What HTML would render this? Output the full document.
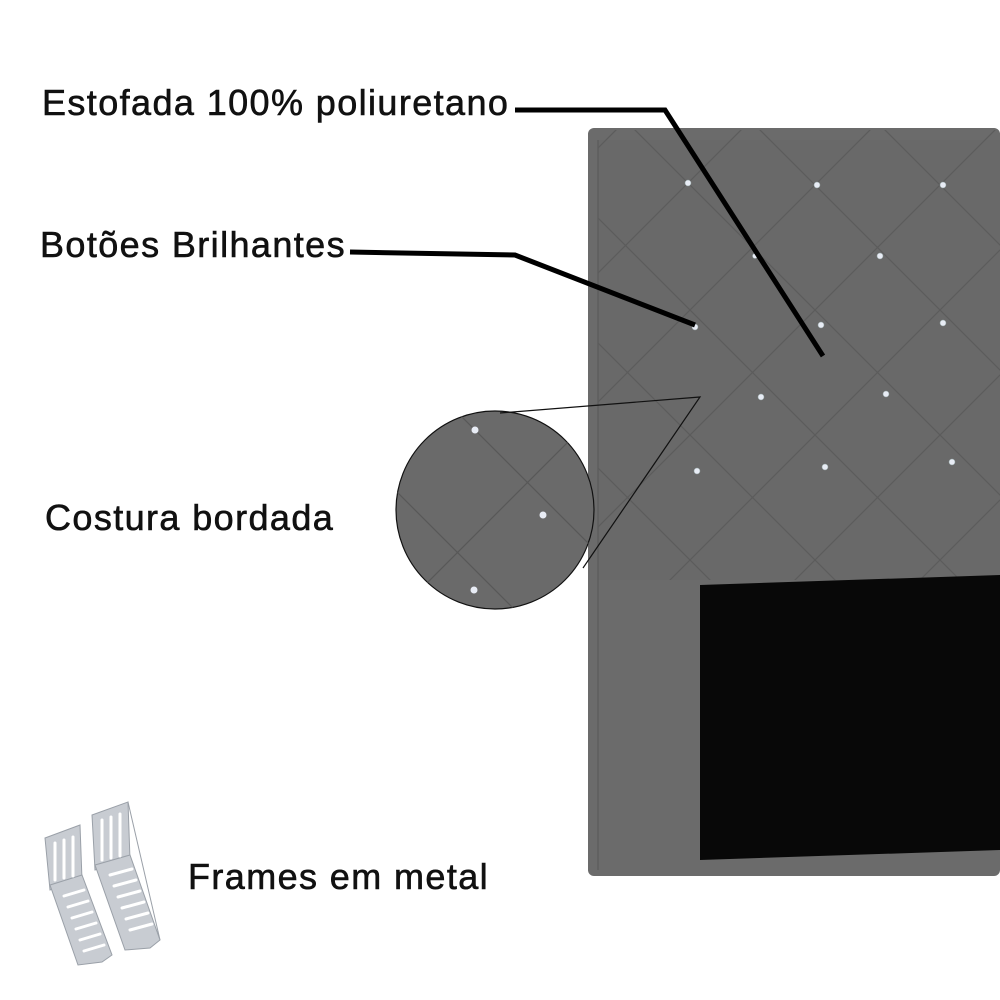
<!DOCTYPE html>
<html><head><style>
body{margin:0;width:1000px;height:1000px;background:#fff;overflow:hidden;position:relative;font-family:"Liberation Sans",sans-serif}
.t{position:absolute;font-size:36px;color:#111;white-space:nowrap;letter-spacing:1.4px;-webkit-text-stroke:0.6px #111}
</style></head><body>
<svg width="1000" height="1000" style="position:absolute;left:0;top:0">
<defs>
<clipPath id="hb"><rect x="598" y="130" width="402" height="450"/></clipPath>
<clipPath id="cc"><circle cx="495" cy="510" r="99"/></clipPath>
</defs>
<rect x="588" y="128" width="412" height="748" rx="6" fill="#6b6b6b"/>
<rect x="598" y="140" width="402" height="440" fill="#696969"/>
<line x1="598" y1="140" x2="598" y2="870" stroke="#5e5e5e" stroke-width="1.5"/>
<g clip-path="url(#hb)" stroke="#5c5c5c" stroke-width="1.2">
<line x1="255" y1="0" x2="1255" y2="1000"/><line x1="380" y1="0" x2="1380" y2="1000"/><line x1="505" y1="0" x2="1505" y2="1000"/><line x1="630" y1="0" x2="1630" y2="1000"/><line x1="755" y1="0" x2="1755" y2="1000"/><line x1="130" y1="0" x2="1130" y2="1000"/>
<line x1="621" y1="0" x2="-379" y2="1000"/><line x1="746" y1="0" x2="-254" y2="1000"/><line x1="871" y1="0" x2="-129" y2="1000"/><line x1="1000" y1="0" x2="0" y2="1000"/><line x1="1125" y1="0" x2="125" y2="1000"/><line x1="1250" y1="0" x2="250" y2="1000"/><line x1="1375" y1="0" x2="375" y2="1000"/><line x1="1500" y1="0" x2="500" y2="1000"/>
</g>
<g fill="#e8ecf5" stroke="#9aa" stroke-width="0.5">
<circle cx="688" cy="183" r="3"/><circle cx="817" cy="185" r="3"/><circle cx="943" cy="185" r="3"/><circle cx="755" cy="256" r="2.5"/><circle cx="880" cy="256" r="3"/><circle cx="695" cy="327" r="3"/><circle cx="821" cy="325" r="3"/><circle cx="943" cy="323" r="3"/><circle cx="761" cy="397" r="3"/><circle cx="886" cy="394" r="3"/><circle cx="697" cy="471" r="3"/><circle cx="825" cy="467" r="3"/><circle cx="952" cy="462" r="3"/>
</g>
<polygon points="700,585 1000,575 1000,850 700,860" fill="#080808"/>
<circle cx="495" cy="510" r="99" fill="#6a6a6a" stroke="#111" stroke-width="1.2"/>
<g clip-path="url(#cc)" stroke="#585858" stroke-width="1.2">
<line x1="300" y1="255" x2="700" y2="655"/><line x1="300" y1="395" x2="700" y2="795"/>
<line x1="700" y1="310" x2="300" y2="710"/><line x1="700" y1="450" x2="300" y2="850"/>
</g>
<g fill="#e8ecf5"><circle cx="475" cy="430" r="3.5"/><circle cx="543" cy="515" r="3.5"/><circle cx="474" cy="590" r="3.5"/></g>
<polyline points="500,413 700,397 583,568" fill="none" stroke="#111" stroke-width="1.2"/>
<polyline points="515,110 665,110 823,356" fill="none" stroke="#000" stroke-width="5"/>
<polyline points="350,252 515,255 695,325" fill="none" stroke="#000" stroke-width="5"/>
<g fill="#c8ccd2" stroke="#9aa0a8" stroke-width="1">
<polygon points="45,838 80,825 82,880 50,890"/>
<polygon points="50,885 82,875 112,955 102,962 78,965"/>
<polygon points="92,815 128,802 130,860 95,870"/>
<polygon points="95,865 130,855 160,940 150,948 125,950"/>
<line x1="128" y1="802" x2="160" y2="940"/>
</g>
<g stroke="#fff" stroke-width="3" stroke-linecap="round">
<line x1="55" y1="843" x2="55" y2="880"/><line x1="64" y1="840" x2="64" y2="878"/><line x1="73" y1="837" x2="73" y2="876"/>
<line x1="102" y1="820" x2="102" y2="860"/><line x1="111" y1="817" x2="111" y2="858"/><line x1="120" y1="814" x2="120" y2="856"/>
<line x1="64" y1="896" x2="84" y2="890"/><line x1="68" y1="907" x2="88" y2="901"/><line x1="72" y1="918" x2="92" y2="912"/><line x1="76" y1="929" x2="96" y2="923"/><line x1="80" y1="940" x2="100" y2="934"/><line x1="84" y1="951" x2="104" y2="945"/>
<line x1="110" y1="875" x2="132" y2="869"/><line x1="114" y1="886" x2="136" y2="880"/><line x1="118" y1="897" x2="140" y2="891"/><line x1="122" y1="908" x2="144" y2="902"/><line x1="126" y1="919" x2="148" y2="913"/><line x1="130" y1="930" x2="152" y2="924"/>
</g>
</svg>
<div class="t" style="left:42px;top:82px">Estofada 100% poliuretano</div>
<div class="t" style="left:40px;top:224px">Botões Brilhantes</div>
<div class="t" style="left:45px;top:497px">Costura bordada</div>
<div class="t" style="left:188px;top:856px">Frames em metal</div>
</body></html>
